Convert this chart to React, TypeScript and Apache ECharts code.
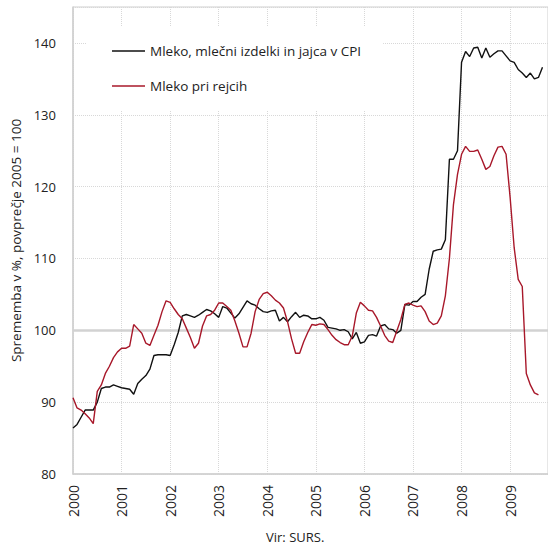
import React, { useEffect, useRef } from "react";
import * as echarts from "echarts";

// Monthly index values, January 2000 onward
const cpiMilk: number[] = [
  86.4, 86.9, 87.9, 88.9, 88.9, 88.9, 90.0, 91.9, 92.1, 92.1, 92.4, 92.2,
  92.0, 91.9, 91.8, 91.1, 92.6, 93.2, 93.7, 94.6, 96.5, 96.6, 96.6, 96.6,
  96.5, 98.0, 99.7, 102.0, 102.2, 102.0, 101.8, 102.1, 102.5, 102.9, 102.7, 102.3,
  101.8, 103.3, 103.1, 102.4, 101.7, 102.3, 103.2, 104.1, 103.7, 103.5, 103.0, 102.6,
  102.5, 102.7, 102.8, 101.3, 101.8, 101.2, 101.9, 102.5, 101.8, 102.1, 102.0, 101.6,
  101.6, 101.8, 101.4, 100.4, 100.3, 100.2, 100.0, 100.1, 99.8, 98.8, 99.7, 98.2,
  98.4, 99.3, 99.4, 99.2, 100.6, 100.8, 100.2, 100.1, 99.6, 100.0, 103.6, 103.5,
  104.0, 104.0, 104.6, 105.0, 108.5, 111.0, 111.2, 111.3, 112.6, 123.8, 123.8, 125.0,
  137.3, 138.8, 138.1, 139.3, 139.4, 137.9, 139.3, 138.0, 138.5, 138.9, 138.9, 138.2,
  137.5, 137.3, 136.3, 135.8, 135.2, 135.8, 135.0, 135.2, 136.6,
];

const farmMilk: number[] = [
  90.6, 89.2, 88.9, 88.4, 87.8, 87.0, 91.5, 92.4, 94.0, 95.0, 96.2, 97.0,
  97.5, 97.5, 97.8, 100.8, 100.2, 99.6, 98.2, 97.9, 99.3, 100.7, 102.6, 104.1,
  103.9, 103.0, 102.2, 101.6, 100.3, 99.0, 97.5, 98.2, 100.6, 102.0, 102.2, 102.8,
  103.8, 103.8, 103.3, 102.8, 101.3, 99.6, 97.7, 97.7, 99.6, 102.6, 104.3, 105.1,
  105.3, 104.8, 104.2, 103.8, 103.1, 101.2, 98.8, 96.8, 96.8, 98.4, 99.7, 100.8,
  100.7, 100.9, 100.8, 100.1, 99.3, 98.7, 98.3, 98.0, 98.0, 99.2, 102.4, 103.9,
  103.4, 102.8, 102.7, 101.8, 100.6, 99.3, 98.5, 98.3, 99.9, 101.5, 103.6, 103.8,
  103.5, 103.3, 103.4, 102.6, 101.3, 100.8, 101.0, 102.0, 104.8, 110.0, 117.5, 121.7,
  124.5, 125.6, 124.9, 124.9, 125.1, 123.8, 122.4, 122.8, 124.3, 125.5, 125.6, 124.5,
  118.5, 111.5, 107.1, 106.1, 94.0, 92.4, 91.3, 91.0,
];

const seriesNames: string[] = [
  "Mleko, mlečni izdelki in jajca v CPI",
  "Mleko pri rejcih",
];
const seriesColors: string[] = ["#111111", "#a8182a"];
const startYear = 2000;
const yTicks: number[] = [80, 90, 100, 110, 120, 130, 140];
const yAxisTitle = "Sprememba v %, povprečje 2005 = 100";
const sourceText = "Vir: SURS.";

const FONT = "Open Sans";

export default function App() {
  const ref = useRef<HTMLDivElement | null>(null);

  useEffect(() => {
    if (!ref.current) return;
    const chart = echarts.init(ref.current, undefined, { renderer: "svg" });
    const toPoints = (arr: number[]) =>
      arr.map((v, i) => [startYear + i / 12, v]);

    chart.setOption({
      animation: false,
      backgroundColor: "#ffffff",
      textStyle: { fontFamily: FONT },
      grid: {
        left: 73,
        right: 0,
        top: 7,
        bottom: 80,
        show: true,
        borderColor: "#cfcfcf",
        borderWidth: 1,
        backgroundColor: "transparent",
      },
      legend: {
        orient: "vertical",
        left: 87,
        top: 27,
        padding: [16, 22, 16, 25],
        itemGap: 19,
        itemWidth: 33,
        itemHeight: 1.6,
        icon: "rect",
        backgroundColor: "#ffffff",
        data: seriesNames,
        textStyle: {
          fontFamily: FONT,
          fontSize: 13.5,
          color: "#222",
          lineHeight: 16,
        },
      },
      xAxis: {
        type: "value",
        min: startYear,
        max: 2009.78,
        interval: 1,
        axisLine: { show: true, lineStyle: { color: "#cfcfcf", width: 1.5 } },
        axisTick: { show: false },
        axisLabel: {
          rotate: 90,
          margin: 11,
          fontFamily: FONT,
          fontSize: 14,
          color: "#222",
          showMaxLabel: false,
          formatter: (v: number) => (Number.isInteger(v) ? String(v) : ""),
        },
        splitLine: {
          show: true,
          lineStyle: { color: "#d8d8d8", type: "dotted", width: 1 },
        },
      },
      yAxis: {
        type: "value",
        min: yTicks[0],
        max: 145,
        interval: 10,
        name: yAxisTitle,
        nameLocation: "middle",
        nameGap: 50,
        nameTextStyle: { fontFamily: FONT, fontSize: 13.5, color: "#222" },
        axisLine: { show: true, lineStyle: { color: "#cfcfcf", width: 1.5 } },
        axisTick: { show: false },
        axisLabel: {
          margin: 17,
          fontFamily: FONT,
          fontSize: 13,
          color: "#222",
          showMaxLabel: false,
          formatter: (v: number) => (yTicks.includes(v) ? String(v) : ""),
        },
        splitLine: {
          show: true,
          lineStyle: { color: "#d8d8d8", type: "dotted", width: 1 },
        },
      },
      series: [
        {
          name: seriesNames[0],
          type: "line",
          data: toPoints(cpiMilk),
          symbol: "none",
          z: 10,
          lineStyle: { color: seriesColors[0], width: 1.4 },
          itemStyle: { color: seriesColors[0] },
          markLine: {
            silent: true,
            symbol: ["none", "none"],
            label: { show: false },
            lineStyle: { color: "#d2d2d2", width: 2.5, type: "solid" },
            data: [{ yAxis: 100 }],
          },
        },
        {
          name: seriesNames[1],
          type: "line",
          data: toPoints(farmMilk),
          symbol: "none",
          z: 10,
          lineStyle: { color: seriesColors[1], width: 1.4 },
          itemStyle: { color: seriesColors[1] },
        },
      ],
      graphic: [
        {
          type: "text",
          left: 266,
          top: 530,
          style: {
            text: sourceText,
            fontFamily: FONT,
            fontSize: 13,
            fill: "#222",
          },
        },
      ],
    });

    return () => chart.dispose();
  }, []);

  return (
    <div
      ref={ref}
      style={{ position: "fixed", left: 0, top: 0, width: 548, height: 554 }}
    />
  );
}
